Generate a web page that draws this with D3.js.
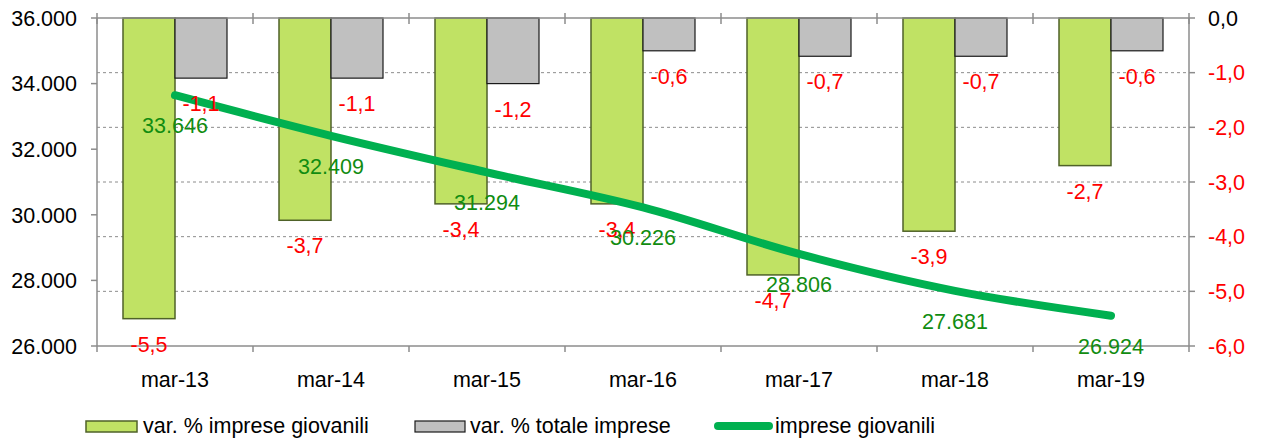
<!DOCTYPE html>
<html>
<head>
<meta charset="utf-8">
<script src="https://cdn.jsdelivr.net/npm/d3@7"></script>
<style>
  body { margin: 0; background: #fff; }
  svg text { font-family: "Liberation Sans", Arial, sans-serif; font-size: 21.5px; }
</style>
</head>
<body>
<svg id="chart" width="1261" height="442"></svg>
<script>
// data
var categories = ["mar-13", "mar-14", "mar-15", "mar-16", "mar-17", "mar-18", "mar-19"];
var varGiovanili = [-5.5, -3.7, -3.4, -3.4, -4.7, -3.9, -2.7];
var varTotale = [-1.1, -1.1, -1.2, -0.6, -0.7, -0.7, -0.6];
var impreseGiovanili = [33646, 32409, 31294, 30226, 28806, 27681, 26924];
var leftTicks = [26000, 28000, 30000, 32000, 34000, 36000];
var rightTicks = [0, -1, -2, -3, -4, -5, -6];

var svg = d3.select("#chart");

var margins = { top: 18, bottom: 96, left: 97, right: 72 };
var width = 1261 - margins.left - margins.right;
var height = 442 - margins.top - margins.bottom;

var itFmt = function (v, dec) {
    // italian style: dot thousands, comma decimals
    if (dec) return v.toFixed(dec).replace(".", ",");
    return d3.format(",")(v).replace(/,/g, ".");
};

var x = d3.scaleBand().domain(categories).range([0, width]);
var xs = d3.scaleBand().domain(["g", "t"]).range([0, x.bandwidth()]).paddingOuter(0.5).paddingInner(0);
var yl = d3.scaleLinear().domain([26000, 36000]).range([height, 0]);
var yr = d3.scaleLinear().domain([-6, 0]).range([height, 0]);

var g = svg.append("g").attr("transform", "translate(" + margins.left + "," + margins.top + ")");

// grid lines (right axis ticks)
g.selectAll(".grid").data(rightTicks.filter(d => d != 0 && d != -6)).enter().append("line")
    .attr("x1", 0).attr("x2", width)
    .attr("y1", d => yr(d)).attr("y2", d => yr(d))
    .attr("stroke", "#8c8c8c").attr("stroke-width", 1).attr("stroke-dasharray", "3,3");

// bars
var rows = categories.map((c, i) => ({ cat: c, g: varGiovanili[i], t: varTotale[i], n: impreseGiovanili[i] }));

g.selectAll(".barG").data(rows).enter().append("rect")
    .attr("x", d => x(d.cat) + xs("g"))
    .attr("y", yr(0))
    .attr("width", xs.bandwidth())
    .attr("height", d => yr(d.g) - yr(0))
    .attr("fill", "#c0e264").attr("stroke", "#4f6228").attr("stroke-width", 1.5);

g.selectAll(".barT").data(rows).enter().append("rect")
    .attr("x", d => x(d.cat) + xs("t"))
    .attr("y", yr(0))
    .attr("width", xs.bandwidth())
    .attr("height", d => yr(d.t) - yr(0))
    .attr("fill", "#c0c0c0").attr("stroke", "#1a1a1a").attr("stroke-width", 1.2);

// axes frame
var axisColor = "#8c8c8c";
g.append("line").attr("x1", 0).attr("x2", width).attr("y1", 0).attr("y2", 0).attr("stroke", axisColor).attr("stroke-width", 1.5);
g.append("line").attr("x1", 0).attr("x2", width).attr("y1", height).attr("y2", height).attr("stroke", axisColor).attr("stroke-width", 1.5);
g.append("line").attr("x1", 0).attr("x2", 0).attr("y1", 0).attr("y2", height).attr("stroke", axisColor).attr("stroke-width", 1.5);
g.append("line").attr("x1", width).attr("x2", width).attr("y1", 0).attr("y2", height).attr("stroke", axisColor).attr("stroke-width", 1.5);

// category ticks
var bounds = categories.map(c => x(c)).concat([width]);
g.selectAll(".tickTop").data(bounds).enter().append("line")
    .attr("x1", d => d).attr("x2", d => d).attr("y1", -5).attr("y2", 6)
    .attr("stroke", axisColor).attr("stroke-width", 1.5);
g.selectAll(".tickBot").data(bounds).enter().append("line")
    .attr("x1", d => d).attr("x2", d => d).attr("y1", height).attr("y2", height + 6)
    .attr("stroke", axisColor).attr("stroke-width", 1.5);

// left axis
g.selectAll(".lt").data(leftTicks).enter().append("line")
    .attr("x1", -6).attr("x2", 0).attr("y1", d => yl(d)).attr("y2", d => yl(d))
    .attr("stroke", axisColor).attr("stroke-width", 1.5);
g.selectAll(".ll").data(leftTicks).enter().append("text")
    .attr("x", -20).attr("y", d => yl(d)).attr("dy", "0.36em")
    .attr("text-anchor", "end").attr("fill", "#000")
    .text(d => itFmt(d));

// right axis
g.selectAll(".rt").data(rightTicks).enter().append("line")
    .attr("x1", width).attr("x2", width + 6).attr("y1", d => yr(d)).attr("y2", d => yr(d))
    .attr("stroke", axisColor).attr("stroke-width", 1.5);
g.selectAll(".rl").data(rightTicks).enter().append("text")
    .attr("x", width + 19).attr("y", d => yr(d)).attr("dy", "0.36em")
    .attr("text-anchor", "start").attr("fill", d => d == 0 ? "#000" : "#ff0000")
    .text(d => itFmt(d, 1));

// category labels
g.selectAll(".cl").data(categories).enter().append("text")
    .attr("x", d => x(d) + x.bandwidth() / 2).attr("y", height + 41)
    .attr("text-anchor", "middle").attr("fill", "#000")
    .text(d => d);

// line
var line = d3.line()
    .x(d => x(d.cat) + x.bandwidth() / 2)
    .y(d => yl(d.n))
    .curve(d3.curveCatmullRom.alpha(0.5));
g.append("path").datum(rows).attr("d", line)
    .attr("fill", "none").attr("stroke", "#00b050").attr("stroke-width", 8).attr("stroke-linecap", "round");

// bar labels
g.selectAll(".lg").data(rows).enter().append("text")
    .attr("x", d => x(d.cat) + xs("g") + xs.bandwidth() / 2).attr("y", d => yr(d.g) + 33)
    .attr("text-anchor", "middle").attr("fill", "#ff0000")
    .text(d => itFmt(d.g, 1));
g.selectAll(".ltl").data(rows).enter().append("text")
    .attr("x", d => x(d.cat) + xs("t") + xs.bandwidth() / 2).attr("y", d => yr(d.t) + 33)
    .attr("text-anchor", "middle").attr("fill", "#ff0000")
    .text(d => itFmt(d.t, 1));

// line labels
g.selectAll(".ln").data(rows).enter().append("text")
    .attr("x", d => x(d.cat) + x.bandwidth() / 2).attr("y", d => yl(d.n) + 38)
    .attr("text-anchor", "middle").attr("fill", "#118c11")
    .text(d => itFmt(d.n));

// legend
var leg = svg.append("g");
leg.append("rect").attr("x", 86).attr("y", 421).attr("width", 51).attr("height", 11)
    .attr("fill", "#c0e264").attr("stroke", "#4f6228").attr("stroke-width", 1.5);
leg.append("text").attr("x", 143).attr("y", 433).attr("fill", "#000").text("var. % imprese giovanili");
leg.append("rect").attr("x", 415).attr("y", 421).attr("width", 50).attr("height", 11)
    .attr("fill", "#c0c0c0").attr("stroke", "#1a1a1a").attr("stroke-width", 1.2);
leg.append("text").attr("x", 470).attr("y", 433).attr("fill", "#000").text("var. % totale imprese");
leg.append("line").attr("x1", 718).attr("x2", 769).attr("y1", 426).attr("y2", 426)
    .attr("stroke", "#00b050").attr("stroke-width", 8).attr("stroke-linecap", "round");
leg.append("text").attr("x", 775).attr("y", 433).attr("fill", "#000").text("imprese giovanili");
</script>
</body>
</html>
